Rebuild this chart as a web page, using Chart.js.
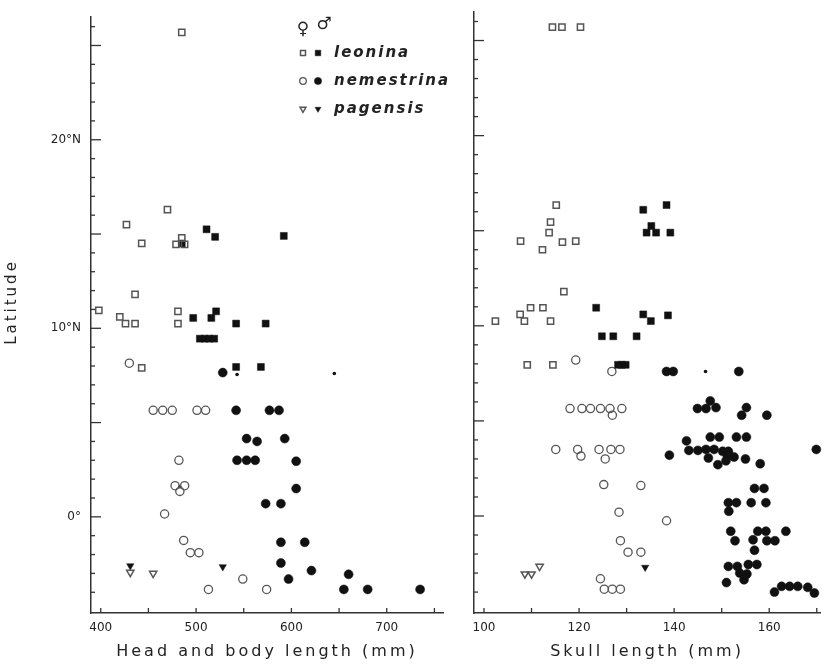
<!DOCTYPE html>
<html><head><meta charset="utf-8">
<script src="https://cdn.jsdelivr.net/npm/chart.js@4/dist/chart.umd.min.js"></script>
<style>
html,body{margin:0;padding:0;background:#fff;}
#wrap{position:relative;width:826px;height:664px;overflow:hidden;background:#fff;}
#c1{position:absolute;left:0;top:0;}
#c2{position:absolute;left:460px;top:0;}
</style></head><body>
<div id="wrap"><canvas id="c1" width="450" height="664"></canvas><canvas id="c2" width="366" height="664"></canvas></div>
<script>
// ---------- DATA : [value, latitude] ----------
// Head and body length (mm)
const hbLeoninaF = [[485,25.7],[470,16.3],[427,15.5],[443,14.5],[485,14.8],[479,14.45],[488,14.45],[436,11.8],[398,10.95],[420,10.6],[426,10.25],[436,10.25],[481,10.9],[481,10.25],[443,7.9]];
const hbLeoninaM = [[511,15.25],[520,14.85],[592,14.9],[485,14.5],[497,10.55],[516,10.55],[521,10.9],[542,10.25],[573,10.25],[504,9.45],[509,9.45],[514,9.45],[519,9.45],[542,7.95],[568,7.95]];
const hbNemestrinaF = [[430,8.15],[455,5.65],[465,5.65],[475,5.65],[501,5.65],[510,5.65],[482,3.0],[478,1.65],[488,1.65],[483,1.35],[467,0.15],[487,-1.25],[494,-1.9],[503,-1.9],[549,-3.3],[513,-3.85],[574,-3.85]];
const hbNemestrinaM = [[528,7.65],[542,5.65],[577,5.65],[587,5.65],[553,4.15],[564,4.0],[593,4.15],[543,3.0],[553,3.0],[562,3.0],[605,2.95],[605,1.5],[573,0.7],[589,0.7],[589,-1.35],[614,-1.35],[589,-2.45],[621,-2.85],[597,-3.3],[660,-3.05],[655,-3.85],[680,-3.85],[735,-3.85]];
const hbPagensisF = [[431,-2.95],[455,-3.0]];
const hbPagensisM = [[431,-2.6],[528,-2.65]];
const hbUnsexed = [[543,7.55],[645,7.6],[483,1.6]];
// Skull length (mm)
const skLeoninaF = [[114.4,25.7],[116.4,25.7],[120.3,25.7],[115.2,16.35],[114.0,15.45],[113.7,14.9],[107.7,14.45],[116.5,14.4],[119.3,14.45],[112.3,14.0],[116.8,11.8],[109.8,10.95],[112.4,10.95],[107.6,10.6],[102.4,10.25],[108.5,10.25],[114.0,10.25],[109.1,7.95],[114.5,7.95]];
const skLeoninaM = [[133.5,16.1],[138.4,16.35],[135.2,15.25],[134.2,14.9],[136.2,14.9],[139.2,14.9],[123.6,10.95],[133.5,10.6],[135.1,10.25],[138.7,10.55],[124.8,9.45],[127.2,9.45],[132.1,9.45],[128.2,7.95],[129.0,7.95],[129.8,7.95]];
const skNemestrinaF = [[119.3,8.2],[126.9,7.6],[118.1,5.65],[120.6,5.65],[122.4,5.65],[124.5,5.65],[126.5,5.65],[129.0,5.65],[127.0,5.3],[115.1,3.5],[119.7,3.5],[124.2,3.5],[126.7,3.5],[128.6,3.5],[120.4,3.15],[125.5,3.0],[125.2,1.65],[133.0,1.6],[128.4,0.2],[138.4,-0.25],[128.7,-1.3],[130.3,-1.9],[133.0,-1.9],[124.5,-3.3],[125.3,-3.85],[127.0,-3.85],[128.7,-3.85]];
const skNemestrinaM = [[138.4,7.6],[139.8,7.6],[153.6,7.6],[139.0,3.2],[142.6,3.95],[144.9,5.65],[146.7,5.65],[147.6,6.05],[148.8,5.7],[154.2,5.3],[155.2,5.7],[159.5,5.3],[147.6,4.15],[149.5,4.15],[153.1,4.15],[155.2,4.15],[143.1,3.45],[145.0,3.45],[146.7,3.5],[148.4,3.5],[150.2,3.4],[151.4,3.4],[152.6,3.1],[151.2,3.15],[150.9,2.9],[149.2,2.7],[147.2,3.05],[155.0,3.0],[158.1,2.75],[169.9,3.5],[156.9,1.45],[158.9,1.45],[151.4,0.7],[153.1,0.7],[156.2,0.7],[159.3,0.7],[151.5,0.25],[151.9,-0.8],[157.6,-0.8],[159.3,-0.8],[163.5,-0.8],[152.8,-1.3],[156.6,-1.25],[159.5,-1.3],[161.2,-1.3],[156.9,-1.8],[151.4,-2.65],[153.3,-2.65],[155.6,-2.55],[157.4,-2.55],[153.8,-3.0],[155.3,-3.05],[154.7,-3.35],[151.0,-3.5],[161.1,-4.0],[162.6,-3.7],[164.3,-3.7],[166.0,-3.7],[168.1,-3.75],[169.5,-4.05]];
const skPagensisF = [[108.6,-3.05],[110.0,-3.05],[111.7,-2.65]];
const skPagensisM = [[133.9,-2.7]];
const skUnsexed = [[146.6,7.6]];

// ticks
const hbTicks = [400,450,500,550,600,650,700,750];
const hbTickLabels = ['400','','500','','600','','700',''];
const skTicks = [100,110,120,130,140,150,160,170];
const skTickLabels = ['100','','120','','140','','160',''];
const latTicks = [0,10,20];
const latTickLabels = ['0°','10°N','20°N'];
const latMinorTicks = [-4,-3,-2,-1,0,1,2,3,4,5,6,7,8,9,10,11,12,13,14,15,16,17,18,19,20,21,22,23,24,25,26];
const speciesNames = ['leonina','nemestrina','pagensis'];

// ---------- STYLES ----------
const OPEN = '#555', FILL = '#111', INK = '#222';
const FONT = '"DejaVu Sans", sans-serif';
const styles = {
  leoF:{pointStyle:'rect',pointRadius:4.4,pointBorderWidth:1.5,pointBorderColor:OPEN,pointBackgroundColor:'rgba(0,0,0,0)'},
  leoM:{pointStyle:'rect',pointRadius:4.9,pointBorderWidth:0.5,pointBorderColor:FILL,pointBackgroundColor:FILL},
  nemF:{pointStyle:'circle',pointRadius:4.1,pointBorderWidth:1.3,pointBorderColor:OPEN,pointBackgroundColor:'rgba(0,0,0,0)'},
  nemM:{pointStyle:'circle',pointRadius:4.5,pointBorderWidth:0.5,pointBorderColor:FILL,pointBackgroundColor:FILL},
  pagF:{pointStyle:'triangle',pointRotation:180,pointRadius:4.2,pointBorderWidth:1.5,pointBorderColor:OPEN,pointBackgroundColor:'rgba(0,0,0,0)'},
  pagM:{pointStyle:'triangle',pointRotation:180,pointRadius:4.2,pointBorderWidth:0.5,pointBorderColor:FILL,pointBackgroundColor:FILL},
  unk:{pointStyle:'circle',pointRadius:1.8,pointBorderWidth:0,pointBorderColor:FILL,pointBackgroundColor:FILL}
};
const toPts = a => a.map(([x,y]) => ({x, y}));
function ds(label, arr, st){ return Object.assign({label, data:toPts(arr), showLine:false, clip:false, pointHoverRadius:st.pointRadius}, st); }

// ---------- PLUGINS ----------
const inTicks = {
  id:'inTicks',
  beforeDatasetsDraw(chart, args, o){
    const ctx = chart.ctx, xs = chart.scales.x, ys = chart.scales.y, a = chart.chartArea;
    ctx.save(); ctx.strokeStyle = '#333'; ctx.lineWidth = 1.3;
    o.x.forEach(v => { const p = xs.getPixelForValue(v); ctx.beginPath(); ctx.moveTo(p, a.bottom); ctx.lineTo(p, a.bottom - 5); ctx.stroke(); });
    o.y.forEach(v => { const p = ys.getPixelForValue(v); const len = (v % 5 === 0) ? 10 : 4; ctx.beginPath(); ctx.moveTo(a.left, p); ctx.lineTo(a.left + len, p); ctx.stroke(); });
    ctx.restore();
  }
};
const axisTitles = {
  id:'axisTitles',
  afterDraw(chart, args, o){
    const ctx = chart.ctx, a = chart.chartArea;
    ctx.save(); ctx.fillStyle = INK; ctx.textAlign = 'center'; ctx.textBaseline = 'middle';
    (o.items || []).forEach(t => {
      ctx.save();
      ctx.font = t.font; ctx.letterSpacing = t.spacing || '0px';
      const x = t.x != null ? t.x : (a.left + a.right) / 2;
      ctx.translate(x, t.y); if (t.rot) ctx.rotate(t.rot);
      ctx.fillText(t.text, 0, 0);
      ctx.restore();
    });
    ctx.restore();
  }
};
const legendPlugin = {
  id:'sexLegend',
  afterDraw(chart, args, o){
    if (!o.show) return;
    const ctx = chart.ctx;
    ctx.save();
    ctx.fillStyle = INK; ctx.textBaseline = 'middle'; ctx.textAlign = 'center';
    ctx.font = 'bold 17px ' + FONT;
    ctx.fillText('♀', 303, 30);
    ctx.fillText('♂', 324, 25);
    const rows = [[styles.leoF, styles.leoM], [styles.nemF, styles.nemM], [styles.pagF, styles.pagM]];
    const ys = [53, 81, 109];
    rows.forEach((r, i) => {
      [303, 318].forEach((x, j) => {
        const s = r[j];
        ctx.fillStyle = s.pointBackgroundColor; ctx.strokeStyle = s.pointBorderColor; ctx.lineWidth = s.pointBorderWidth;
        Chart.helpers.drawPoint(ctx, {pointStyle:s.pointStyle, radius:s.pointRadius*0.8, rotation:s.pointRotation||0, borderWidth:s.pointBorderWidth}, x, ys[i]);
      });
      ctx.fillStyle = INK; ctx.textAlign = 'left';
      ctx.font = 'italic 600 15px ' + FONT; ctx.letterSpacing = '2px';
      ctx.fillText(speciesNames[i], 334, ys[i]);
      ctx.letterSpacing = '0px';
    });
    ctx.restore();
  }
};

function makeOptions(cfg){
  return {
    responsive:false, animation:false, devicePixelRatio:1,
    layout:{padding:{top:12, right:cfg.padRight, bottom:0, left:0}},
    plugins:{legend:{display:false}, tooltip:{enabled:false},
      inTicks:{x:cfg.xTicks, y:latMinorTicks},
      axisTitles:{items:cfg.titles},
      sexLegend:{show:cfg.legend}},
    scales:{
      x:{type:'linear', min:cfg.xMin, max:cfg.xMax,
        afterBuildTicks: s => { s.ticks = cfg.xTicks.map(v => ({value:v})); },
        afterFit: s => { s.height = 51; },
        ticks:{autoSkip:false, maxRotation:0, padding:8, color:INK, font:{family:FONT, size:12},
          callback:(v) => { const i = cfg.xTicks.indexOf(v); return i >= 0 ? cfg.xLabels[i] : ''; }},
        grid:{display:false, drawTicks:false},
        border:{display:true, color:'#333', width:1.5}},
      y:{type:'linear', min:-5.1, max:26.5,
        afterBuildTicks: s => { s.ticks = latTicks.map(v => ({value:v})); },
        afterFit: s => { s.width = cfg.yWidth; },
        ticks:{display:cfg.yLabels, autoSkip:false, padding:10, color:INK, font:{family:FONT, size:12},
          callback:(v) => { const i = latTicks.indexOf(v); return i >= 0 ? latTickLabels[i] : ''; }},
        grid:{display:false, drawTicks:false},
        border:{display:true, color:'#333', width:1.5}}
    }
  };
}

new Chart(document.getElementById('c1'), {
  type:'scatter',
  data:{datasets:[
    ds('leonina ♀', hbLeoninaF, styles.leoF), ds('leonina ♂', hbLeoninaM, styles.leoM),
    ds('nemestrina ♀', hbNemestrinaF, styles.nemF), ds('nemestrina ♂', hbNemestrinaM, styles.nemM),
    ds('pagensis ♀', hbPagensisF, styles.pagF), ds('pagensis ♂', hbPagensisM, styles.pagM),
    ds('unsexed', hbUnsexed, styles.unk)]},
  options: makeOptions({xMin:389.8, xMax:759, xTicks:hbTicks, xLabels:hbTickLabels, padRight:7, yWidth:91, yLabels:true, legend:true,
    titles:[{text:'Head and body length (mm)', y:652, font:'16px '+FONT, spacing:'3px'},
            {text:'Latitude', x:12, y:302, rot:-Math.PI/2, font:'15px '+FONT, spacing:'3px'}]}),
  plugins:[inTicks, axisTitles, legendPlugin]
});

new Chart(document.getElementById('c2'), {
  type:'scatter',
  data:{datasets:[
    ds('leonina ♀', skLeoninaF, styles.leoF), ds('leonina ♂', skLeoninaM, styles.leoM),
    ds('nemestrina ♀', skNemestrinaF, styles.nemF), ds('nemestrina ♂', skNemestrinaM, styles.nemM),
    ds('pagensis ♀', skPagensisF, styles.pagF), ds('pagensis ♂', skPagensisM, styles.pagM),
    ds('unsexed', skUnsexed, styles.unk)]},
  options: makeOptions({xMin:97.9, xMax:170.7, xTicks:skTicks, xLabels:skTickLabels, padRight:0, yWidth:14, yLabels:false, legend:false,
    titles:[{text:'Skull length (mm)', y:652, font:'16px '+FONT, spacing:'3px'}]}),
  plugins:[inTicks, axisTitles, legendPlugin]
});
</script>
</body></html>
